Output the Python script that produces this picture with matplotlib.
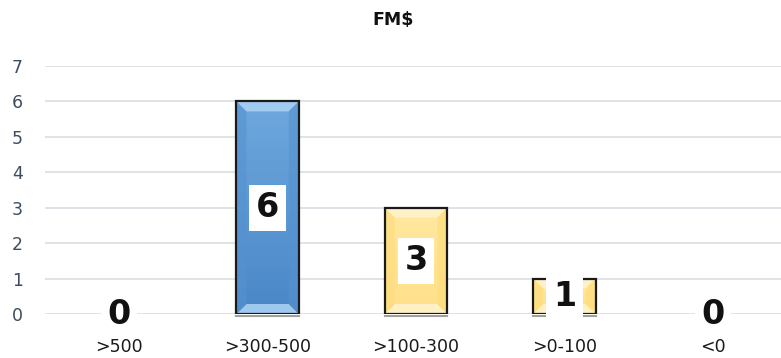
import matplotlib
matplotlib.use("Agg")
import matplotlib.pyplot as plt
import numpy as np
from matplotlib.colors import LinearSegmentedColormap
from matplotlib.patches import Polygon, Rectangle

# data
categories = [">500", ">300-500", ">100-300", ">0-100", "<0"]
counts = [0, 6, 3, 1, 0]
bar_styles = ["blue", "blue", "yellow", "yellow", "yellow"]
title = "FM$"
y_ticks = list(range(0, 8))

palette = {
    # gradient top, gradient bottom, top/bottom bevel, side bevel
    "blue": ("#6EA8DE", "#4A87C7", "#A9D0F3", "#5592CF"),
    "yellow": ("#FFE8A0", "#FFE08A", "#FFF3CC", "#FFDC7A"),
}

fig = plt.figure(figsize=(7.81, 3.58), dpi=100)
ax = fig.add_axes([45 / 781, 44 / 358, 742 / 781, 248 / 358])

ax.set_xlim(-0.5, len(categories) - 0.5)
ax.set_ylim(0, 7)
ax.set_yticks(y_ticks)
ax.set_xticks(range(len(categories)))
ax.set_xticklabels(categories)
ax.yaxis.grid(True, color="#D9DEE4", linewidth=1.2)
ax.set_axisbelow(True)
for s in ax.spines.values():
    s.set_visible(False)
ax.tick_params(axis="both", length=0, labelsize=12.5)
ax.tick_params(axis="y", pad=16, labelcolor="#3E4C60")
ax.tick_params(axis="x", pad=17, labelcolor="#1A1A1A")

width = 0.42
# bevel size in data units (~10 px)
bx = 10 / 148.4
by = 10 / 35.4
grad = np.linspace(0, 1, 100).reshape(-1, 1)

for i, (v, st) in enumerate(zip(counts, bar_styles)):
    if v <= 0:
        continue
    c_top, c_bot, light, side = palette[st]
    x0, x1 = i - width / 2, i + width / 2
    b = min(by, v / 2)
    rect = Rectangle((x0, 0), width, v, facecolor="none", edgecolor="none", zorder=2)
    ax.add_patch(rect)
    cmap = LinearSegmentedColormap.from_list("g", [c_bot, c_top])
    im = ax.imshow(grad, cmap=cmap, extent=(x0, x1, 0, v), origin="lower",
                   aspect="auto", zorder=2)
    im.set_clip_path(rect)
    # bevels
    top = [(x0, v), (x1, v), (x1 - bx, v - b), (x0 + bx, v - b)]
    bot = [(x0, 0), (x1, 0), (x1 - bx, b), (x0 + bx, b)]
    left = [(x0, 0), (x0 + bx, b), (x0 + bx, v - b), (x0, v)]
    right = [(x1, 0), (x1 - bx, b), (x1 - bx, v - b), (x1, v)]
    for poly, col, a in ((top, light, 0.9), (bot, light, 0.9), (left, side, 0.6), (right, side, 0.6)):
        ax.add_patch(Polygon(poly, closed=True, facecolor=col, edgecolor="none",
                             alpha=a, zorder=2))
    ax.add_patch(Rectangle((x0, 0), width, v, facecolor="none", edgecolor="#1A1A1A",
                           linewidth=1.6, zorder=3))
    ax.plot([x0, x1], [-0.06, -0.06], color="#A0A0A0", linewidth=1.5, zorder=2,
            clip_on=False)

ax.set_xlim(-0.5, len(categories) - 0.5)
ax.set_ylim(0, 7)

for i, v in enumerate(counts):
    ax.text(i, v / 2, str(v), ha="center", va="center", fontsize=24,
            fontweight="bold", color="#111111", zorder=5,
            bbox=dict(boxstyle="square,pad=0.2", facecolor="white", edgecolor="none"))

fig.text(393 / 781, 1 - 20 / 358, title, ha="center", va="center",
         fontsize=12.5, fontweight="bold", color="#111111")

fig.savefig("out.png", dpi=100)
